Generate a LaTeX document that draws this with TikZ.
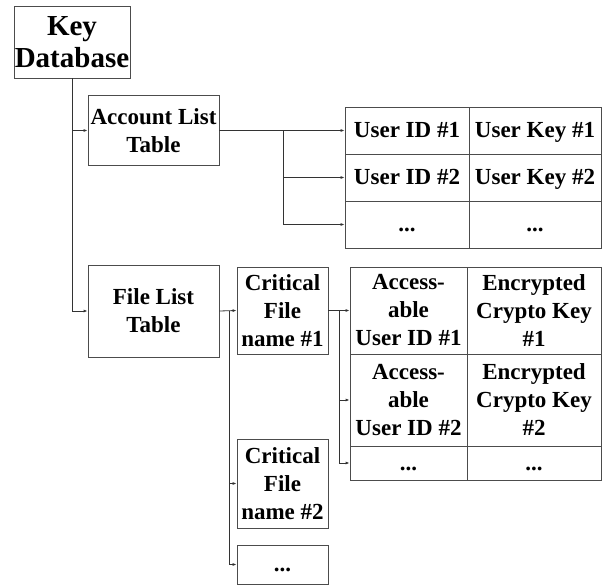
\documentclass[tikz,border=0pt]{standalone}
\usepackage{fontspec}
\setmainfont{Liberation Serif}
\usepackage{tikz}
\usetikzlibrary{arrows.meta}

\tikzset{
  box/.style={draw=black!70, line width=0.8pt, align=center, inner sep=0pt,
    font=\fontsize{23}{28}\selectfont\bfseries},
  cell/.style={box, minimum width=#1},
  oneline/.style={text height=18pt, text depth=4pt},
  link/.style={draw=black!80, line width=0.8pt},
  arr/.style={link, -{Latex[length=4pt,width=3pt]}}
}

\begin{document}
\begin{tikzpicture}[x=1pt,y=-1pt]
\useasboundingbox (0,0) rectangle (602,588);

% tree of tables
\node[box, minimum width=116, minimum height=72, font=\fontsize{29}{32}\selectfont\bfseries] (kdb) at (72,42) {Key\\Database};
\node[box, minimum width=131, minimum height=70] (acct) at (153.5,130.5) {Account List\\Table};
\node[box, minimum width=131, minimum height=92] (flist) at (153.5,311) {File List\\Table};

\node[box, minimum width=91, minimum height=87] (crit1) at (282.5,310.5) {Critical\\File\\name \#1};
\node[box, minimum width=91, minimum height=89] (crit2) at (282.5,483.5) {Critical\\File\\name \#2};
\node[box, oneline, minimum width=91, minimum height=39] (critx) at (282.5,564.5) {...};

% account list table
\node[cell=124, oneline, minimum height=47] (au1) at (407,130.5) {User ID \#1};
\node[cell=132, oneline, minimum height=47] (ak1) at (535,130.5) {User Key \#1};
\node[cell=124, oneline, minimum height=47] (au2) at (407,177.5) {User ID \#2};
\node[cell=132, oneline, minimum height=47] (ak2) at (535,177.5) {User Key \#2};
\node[cell=124, oneline, minimum height=47] (aux) at (407,224.5) {...};
\node[cell=132, oneline, minimum height=47] (akx) at (535,224.5) {...};

% file list table
\node[cell=117, minimum height=87] (fu1) at (408.5,310.5) {Access-\\able\\User ID \#1};
\node[cell=134, minimum height=87] (fk1) at (534,310.5) {Encrypted\\Crypto Key\\\#1};
\node[cell=117, minimum height=92] (fu2) at (408.5,400) {Access-\\able\\User ID \#2};
\node[cell=134, minimum height=92] (fk2) at (534,400) {Encrypted\\Crypto Key\\\#2};
\node[cell=117, oneline, minimum height=34] (fux) at (408.5,463) {...};
\node[cell=134, oneline, minimum height=34] (fkx) at (534,463) {...};

\coordinate (ajoin) at (283,130.5);
\coordinate (fjoin) at (229,310.5);
\coordinate (cjoin) at (339,310.5);

\draw[arr] (kdb.south) |- (acct.west);
\draw[arr] (kdb.south) |- (flist.west);

\draw[arr] (acct.east) -- (au1.west);
\draw[arr] (ajoin) |- (au2.west);
\draw[arr] (ajoin) |- (aux.west);

\draw[arr] (flist.east) -- (crit1.west);
\draw[arr] (fjoin) |- (crit2.west);
\draw[arr] (fjoin) |- (critx.west);

\draw[arr] (crit1.east) -- (fu1.west);
\draw[arr] (cjoin) |- (fu2.west);
\draw[arr] (cjoin) |- (fux.west);

\end{tikzpicture}
\end{document}
